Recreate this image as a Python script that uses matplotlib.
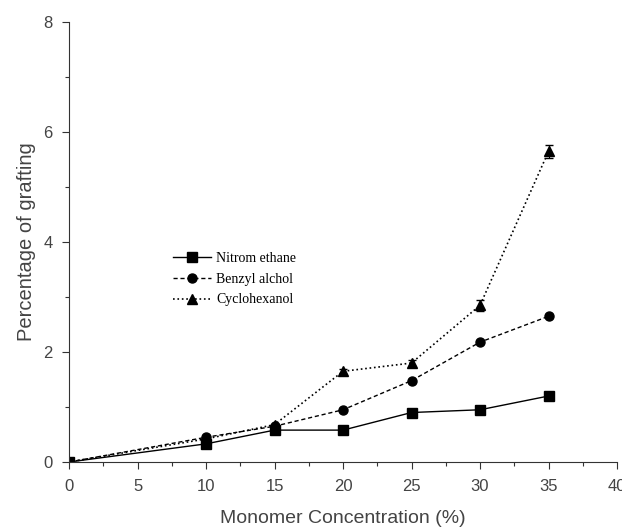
import matplotlib
matplotlib.use("Agg")
import matplotlib.pyplot as plt
from matplotlib.ticker import MultipleLocator

# --- Data ---
conc = [0, 10, 15, 20, 25, 30, 35]
nitromethane = [0, 0.33, 0.58, 0.58, 0.90, 0.95, 1.20]
benzyl = [0, 0.45, 0.65, 0.95, 1.48, 2.18, 2.65]
cyclohexanol = [0, 0.42, 0.68, 1.65, 1.80, 2.85, 5.65]
cyclo_err = [0, 0, 0, 0.05, 0.05, 0.1, 0.12]

fig = plt.figure(figsize=(6.22, 5.28), dpi=100)
ax = fig.add_axes([0.111, 0.125, 0.881, 0.833])

ax.plot(conc, nitromethane, 'k-', lw=1.0, marker='s', ms=6.5, label='Nitrom ethane')
ax.plot(conc, benzyl, 'k--', lw=1.0, dashes=(3, 2), marker='o', ms=6.5, label='Benzyl alchol')
ax.plot(conc, cyclohexanol, 'k:', lw=1.2, marker='^', ms=7.5, label='Cyclohexanol')
# error bars drawn separately so the legend handle stays plain
ax.errorbar(conc, cyclohexanol, yerr=cyclo_err, fmt='none', ecolor='k',
            capsize=3, elinewidth=0.8)

ax.set_xlim(0, 40)
ax.set_ylim(0, 8)
ax.xaxis.set_major_locator(MultipleLocator(5))
ax.xaxis.set_minor_locator(MultipleLocator(2.5))
ax.yaxis.set_major_locator(MultipleLocator(2))
ax.yaxis.set_minor_locator(MultipleLocator(1))

for s in ['top', 'right']:
    ax.spines[s].set_visible(False)
for s in ['left', 'bottom']:
    ax.spines[s].set_color('#333333')

ax.tick_params(which='major', direction='out', length=5, width=0.8, colors='#333333',
               labelsize=12, labelcolor='#444444', pad=7)
ax.tick_params(which='minor', direction='out', length=3, width=0.8, colors='#333333')
for lab in ax.get_xticklabels() + ax.get_yticklabels():
    lab.set_family('Liberation Sans')

ax.set_xlabel('Monomer Concentration (%)', fontsize=14, family='Liberation Sans',
              color='#444444', labelpad=12)
ax.set_ylabel('Percentage of grafting', fontsize=14.5, family='Liberation Sans',
              color='#444444', labelpad=5)

ax.legend(loc='upper left', bbox_to_anchor=(0.19, 0.477), frameon=False,
          prop={'family': 'Liberation Serif', 'size': 10}, handlelength=2.7,
          handletextpad=0.4, labelspacing=0.55, borderpad=0, borderaxespad=0)

fig.savefig('out.png', dpi=100)
